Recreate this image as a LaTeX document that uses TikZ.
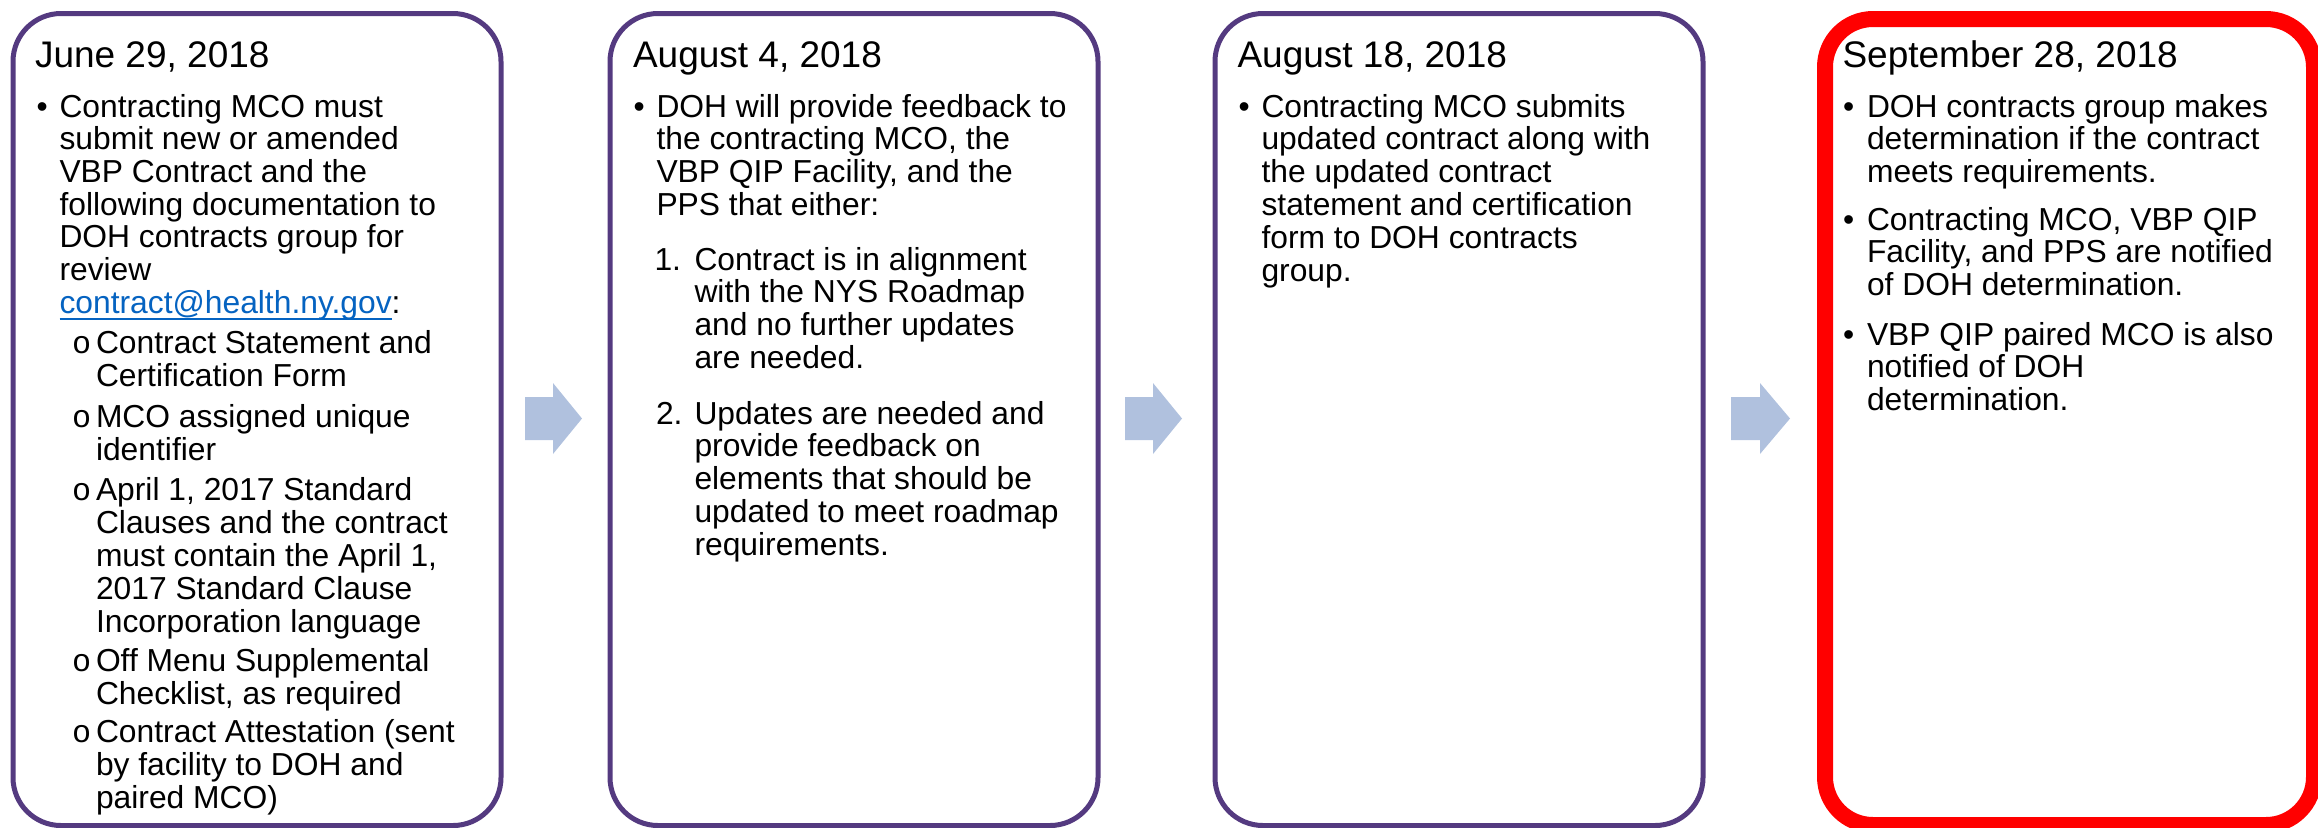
\documentclass[tikz,border=0pt]{standalone}
\usepackage{fontspec}
\setmainfont{Liberation Sans}
\newfontfamily\monof{Liberation Mono}
\definecolor{purp}{RGB}{84,58,128}
\definecolor{hred}{RGB}{255,0,0}
\definecolor{arrowblue}{RGB}{176,193,222}
\definecolor{linkblue}{RGB}{5,99,193}
\newcommand\bodyfont{\fontsize{15.9}{16}\selectfont}
\newcommand\titlefont{\fontsize{18.5}{20}\selectfont}
\newcommand\mytl[4]{\node[txt] (#1) at (#2,#3) {#4};}
\tikzset{
  boxp/.style={draw=purp, line width=2.5pt, rounded corners=24pt, fill=white,
    inner sep=0pt, anchor=north west, minimum width=244pt, minimum height=406pt},
  boxr/.style={draw=hred, line width=8pt, rounded corners=24pt, fill=white,
    inner sep=0pt, anchor=north west, minimum width=244.5pt, minimum height=403pt},
  txt/.style={anchor=base west, inner sep=0pt, outer sep=0pt, font=\bodyfont, text=black},
  ttl/.style={anchor=base west, inner sep=0pt, outer sep=0pt, font=\titlefont, text=black},
  flowarrow/.style={fill=arrowblue, draw=none}
}
\begin{document}
\begin{tikzpicture}[x=0.5pt,y=-0.5pt]
\useasboundingbox (0,0) rectangle (2318,827);
% boxes
\node[boxp] (box1) at (10.5,11) {};
\node[boxp] (box2) at (607.5,11) {};
\node[boxp] (box3) at (1212.5,11) {};
\node[boxr] (box4) at (1817,11) {};
% arrows
\fill[flowarrow] (525,397) -- (553,397) -- (553,383) -- (582,418.5) -- (553,454) -- (553,440) -- (525,440) -- cycle;
\fill[flowarrow] (1125,397) -- (1153,397) -- (1153,383) -- (1182,418.5) -- (1153,454) -- (1153,440) -- (1125,440) -- cycle;
\fill[flowarrow] (1731,397) -- (1760,397) -- (1760,383) -- (1790,418.5) -- (1760,454) -- (1760,440) -- (1731,440) -- cycle;

% ---------- Box 1
\node[ttl] (t1) at (35,67) {June 29, 2018};
\mytl{b1a}{36.5}{117}{•}
\mytl{l1a}{59.5}{117}{Contracting MCO must}
\mytl{l1b}{59.5}{149.8}{submit new or amended}
\mytl{l1c}{59.5}{182.4}{VBP Contract and the}
\mytl{l1d}{59.5}{215}{following documentation to}
\mytl{l1e}{59.5}{247.6}{DOH contracts group for}
\mytl{l1f}{59.5}{280.4}{review}
\node[txt, text=linkblue] (link) at (59.5,313) {contract@health.ny.gov};
\node[txt] (colon) at (link.base east) {:};
\draw[linkblue, line width=0.75pt] ([yshift=-3pt]link.base west) -- ([yshift=-3pt]link.base east);
\node[txt, font=\bodyfont\monof] (o1) at (72,353) {o};
\mytl{s1a}{96}{353}{Contract Statement and}
\mytl{s1b}{96}{386}{Certification Form}
\node[txt, font=\bodyfont\monof] (o2) at (72,427) {o};
\mytl{s2a}{96}{427}{MCO assigned unique}
\mytl{s2b}{96}{460}{identifier}
\node[txt, font=\bodyfont\monof] (o3) at (72,500) {o};
\mytl{s3a}{96}{500}{April 1, 2017 Standard}
\mytl{s3b}{96}{533}{Clauses and the contract}
\mytl{s3c}{96}{566}{must contain the April 1,}
\mytl{s3d}{96}{599}{2017 Standard Clause}
\mytl{s3e}{96}{632}{Incorporation language}
\node[txt, font=\bodyfont\monof] (o4) at (72,671) {o};
\mytl{s4a}{96}{671}{Off Menu Supplemental}
\mytl{s4b}{96}{704}{Checklist, as required}
\node[txt, font=\bodyfont\monof] (o5) at (72,742) {o};
\mytl{s5a}{96}{742}{Contract Attestation (sent}
\mytl{s5b}{96}{775}{by facility to DOH and}
\mytl{s5c}{96}{808}{paired MCO)}

% ---------- Box 2
\node[ttl] (t2) at (633,67) {August 4, 2018};
\mytl{b2a}{633.5}{117}{•}
\mytl{m2a}{656.5}{117}{DOH will provide feedback to}
\mytl{m2b}{656.5}{149.8}{the contracting MCO, the}
\mytl{m2c}{656.5}{182.4}{VBP QIP Facility, and the}
\mytl{m2d}{656.5}{215}{PPS that either:}
\mytl{n1}{654.5}{270}{1.}
\mytl{p1a}{694.5}{270}{Contract is in alignment}
\mytl{p1b}{694.5}{302.8}{with the NYS Roadmap}
\mytl{p1c}{694.5}{335.6}{and no further updates}
\mytl{p1d}{694.5}{368.4}{are needed.}
\mytl{n2}{656}{424}{2.}
\mytl{p2a}{694.5}{424}{Updates are needed and}
\mytl{p2b}{694.5}{456.8}{provide feedback on}
\mytl{p2c}{694.5}{489.6}{elements that should be}
\mytl{p2d}{694.5}{522.4}{updated to meet roadmap}
\mytl{p2e}{694.5}{555.2}{requirements.}

% ---------- Box 3
\node[ttl] (t3) at (1237.5,67) {August 18, 2018};
\mytl{b3a}{1238.5}{117}{•}
\mytl{q3a}{1261.5}{117}{Contracting MCO submits}
\mytl{q3b}{1261.5}{149.8}{updated contract along with}
\mytl{q3c}{1261.5}{182.6}{the updated contract}
\mytl{q3d}{1261.5}{215.4}{statement and certification}
\mytl{q3e}{1261.5}{248.2}{form to DOH contracts}
\mytl{q3f}{1261.5}{281}{group.}

% ---------- Box 4
\node[ttl] (t4) at (1842.5,67) {September 28, 2018};
\mytl{b4a}{1843}{117}{•}
\mytl{r4a}{1867}{117}{DOH contracts group makes}
\mytl{r4b}{1867}{149.8}{determination if the contract}
\mytl{r4c}{1867}{182.6}{meets requirements.}
\mytl{b4b}{1843}{230}{•}
\mytl{r4d}{1867}{230}{Contracting MCO, VBP QIP}
\mytl{r4e}{1867}{262.8}{Facility, and PPS are notified}
\mytl{r4f}{1867}{295.6}{of DOH determination.}
\mytl{b4c}{1843}{345}{•}
\mytl{r4g}{1867}{345}{VBP QIP paired MCO is also}
\mytl{r4h}{1867}{377.8}{notified of DOH}
\mytl{r4i}{1867}{410.6}{determination.}
\end{tikzpicture}
\end{document}
